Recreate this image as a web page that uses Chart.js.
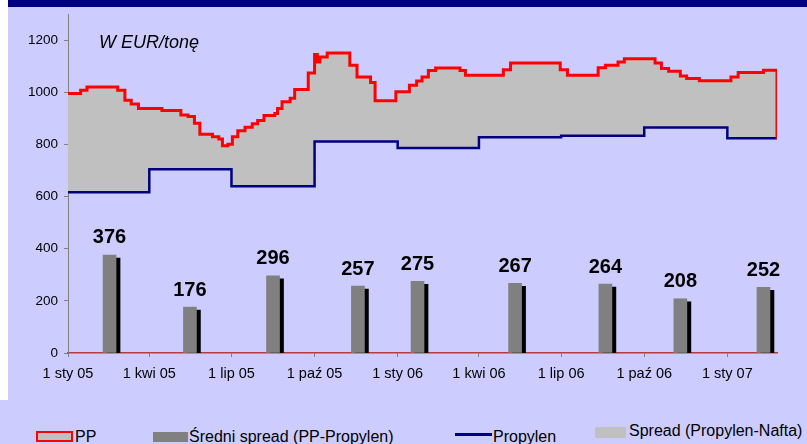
<!DOCTYPE html>
<html>
<head>
<meta charset="utf-8">
<script src="https://cdn.jsdelivr.net/npm/chart.js@4/dist/chart.umd.min.js"></script>
<style>
  body { margin: 0; }
  #wrap { position: relative; width: 807px; height: 444px; background: #ccccff; overflow: hidden;
          font-family: "Liberation Sans", Arial, sans-serif; }
  #strip { position: absolute; left: 0; top: 0; width: 8px; height: 400px; background: #fff; }
  #band { position: absolute; left: 8px; top: 0; width: 799px; height: 7px; background: #000080; }
  canvas { position: absolute; left: 0; top: 0; }
  .unit { position: absolute; left: 99px; top: 33px; font-size: 18px; line-height: 18px; font-style: italic; color: #000; }
  .lg { position: absolute; font-size: 16px; line-height: 16px; color: #000; white-space: nowrap; }
  .sw { position: absolute; box-sizing: border-box; }
</style>
</head>
<body>
<div id="wrap">
  <div id="strip"></div>
  <div id="band"></div>
  <canvas id="chart" width="807" height="400"></canvas>
  <div class="unit">W EUR/tonę</div>

  <div class="sw" style="left:36px;top:431px;width:37px;height:11px;background:#c0c0c0;border:2px solid #ff0000;"></div>
  <div class="lg" style="left:75px;top:428.5px;">PP</div>
  <div class="sw" style="left:153px;top:432px;width:35px;height:10px;background:#808080;"></div>
  <div class="lg" style="left:189px;top:428.5px;">Średni spread (PP-Propylen)</div>
  <div class="sw" style="left:455px;top:433px;width:37px;height:3px;background:#000080;"></div>
  <div class="lg" style="left:493px;top:428.5px;">Propylen</div>
  <div class="sw" style="left:595px;top:427px;width:31px;height:11px;background:#c0c0c0;"></div>
  <div class="lg" style="left:629px;top:423px;">Spread (Propylen-Nafta)</div>
</div>

<script>
// x axis: days counted from 1 sty 05
const xTickDays = [0, 90, 181, 273, 365, 455, 546, 638, 730];
const xTickLabels = ["1 sty 05", "1 kwi 05", "1 lip 05", "1 paź 05", "1 sty 06", "1 kwi 06", "1 lip 06", "1 paź 06", "1 sty 07"];
const yTicks = [0, 200, 400, 600, 800, 1000, 1200];

// PP price (step line)
const ppDays = [0, 14, 21, 55, 63, 70, 78, 104, 125, 133, 140, 146, 160, 167, 171, 177, 182, 188, 196, 204,
  210, 217, 229, 232, 237, 246, 251, 266, 273, 276, 279, 287, 312, 320, 335, 340, 363, 378, 386, 392,
  399, 407, 434, 440, 482, 490, 545, 553, 587, 595, 609, 616, 650, 657, 665, 678, 685, 699, 734, 742,
  770, 785, 785];
const ppValues = [995, 1008, 1020, 1008, 970, 955, 938, 930, 913, 907, 881, 839, 830, 821, 795, 801, 830, 853, 866, 879,
  892, 911, 919, 938, 964, 977, 1011, 1074, 1145, 1116, 1135, 1151, 1104, 1059, 1038, 968, 1002, 1027, 1043, 1059,
  1084, 1093, 1084, 1065, 1087, 1112, 1087, 1065, 1094, 1104, 1116, 1129, 1112, 1091, 1081, 1063, 1053, 1044, 1059, 1076,
  1085, 1085, 822];

// Propylen contract price
const propDays = [0, 90, 181, 273, 365, 455, 546, 638, 730, 785];
const propValues = [617, 705, 640, 811, 786, 828, 833, 865, 824, 824];

// Średni spread (PP-Propylen)
const spreadDays = [46, 135, 227, 321, 387, 495, 595, 678, 770];
const spreadValues = [376, 176, 296, 257, 275, 267, 264, 208, 252];

const FONT = "'Liberation Sans', Arial, sans-serif";

const toXY = (xs, ys) => xs.map((x, i) => ({ x: x, y: ys[i] }));

// black offset shadow behind the bars + value labels above them
const barDecor = {
  id: "barDecor",
  beforeDatasetDraw(chart, args) {
    if (args.meta.type !== "bar") return;
    const ctx = chart.ctx;
    ctx.save();
    ctx.shadowColor = "#000000";
    ctx.shadowOffsetX = 4;
    ctx.shadowOffsetY = 3;
    ctx.shadowBlur = 0;
  },
  afterDatasetDraw(chart, args) {
    if (args.meta.type !== "bar") return;
    const ctx = chart.ctx;
    ctx.restore();
    ctx.save();
    ctx.font = "bold 20px " + FONT;
    ctx.fillStyle = "#000";
    ctx.textAlign = "center";
    ctx.textBaseline = "middle";
    args.meta.data.forEach((bar, i) => {
      ctx.fillText(String(spreadValues[i]), bar.x, bar.y - 17);
    });
    ctx.restore();
  }
};

new Chart(document.getElementById("chart").getContext("2d"), {
  type: "bar",
  data: {
    datasets: [
      {
        type: "line",
        label: "PP",
        data: toXY(ppDays, ppValues),
        borderColor: "#ff0000",
        borderWidth: 3,
        backgroundColor: "#c0c0c0",
        fill: 1,
        stepped: true,
        pointRadius: 0,
      },
      {
        type: "line",
        label: "Propylen",
        data: toXY(propDays, propValues),
        borderColor: "#000080",
        borderWidth: 2.5,
        fill: false,
        stepped: true,
        pointRadius: 0,
      },
      {
        type: "bar",
        label: "Średni spread (PP-Propylen)",
        data: toXY(spreadDays, spreadValues),
        backgroundColor: "#808080",
        barThickness: 13,
      },
    ],
  },
  options: {
    responsive: false,
    devicePixelRatio: 1,
    animation: false,
    layout: { padding: { left: 0, right: 30, top: 12, bottom: 0 } },
    plugins: {
      legend: { display: false },
      tooltip: { enabled: false },
      filler: { drawTime: "beforeDatasetsDraw" },
    },
    scales: {
      x: {
        type: "linear",
        offset: false,
        min: 0,
        max: 785,
        afterBuildTicks: (s) => { s.ticks = xTickDays.map((v) => ({ value: v })); },
        afterFit: (s) => { s.height = 47; },
        grid: { drawOnChartArea: false, tickLength: 4, color: "#808080", offset: false },
        border: { color: "#b83a3a", width: 1.5 },
        ticks: {
          autoSkip: false,
          maxRotation: 0,
          padding: 8,
          color: "#000",
          font: { family: FONT, size: 14.5 },
          callback: (v) => xTickLabels[xTickDays.indexOf(v)],
        },
      },
      y: {
        min: 0,
        max: 1300,
        afterBuildTicks: (s) => { s.ticks = yTicks.map((v) => ({ value: v })); },
        afterFit: (s) => { s.width = 68; },
        grid: { drawOnChartArea: false, tickLength: 4, color: "#808080" },
        border: { color: "#808080", width: 1 },
        ticks: {
          padding: 6,
          color: "#000",
          font: { family: FONT, size: 13.5 },
          callback: (v) => String(v),
        },
      },
    },
  },
  plugins: [barDecor],
});
</script>
</body>
</html>
